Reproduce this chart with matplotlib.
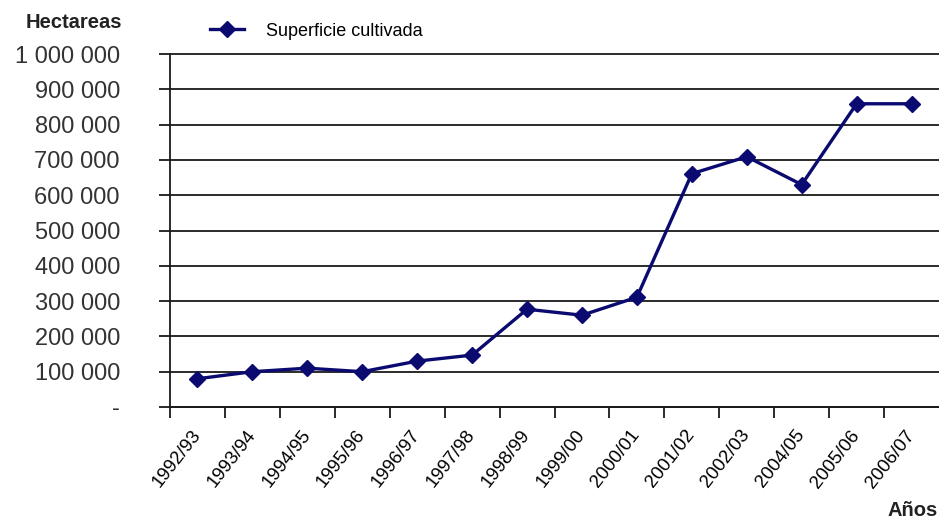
import numpy as np
import matplotlib.pyplot as plt
from matplotlib.ticker import FuncFormatter

plt.rcParams['font.family'] = ['Liberation Sans', 'DejaVu Sans']

campaigns = ["1992/93", "1993/94", "1994/95", "1995/96", "1996/97", "1997/98",
             "1998/99", "1999/00", "2000/01", "2001/02", "2002/03", "2004/05",
             "2005/06", "2006/07"]
hectares = [80000, 100000, 110000, 100000, 130000, 147000, 277000, 260000,
            311000, 661000, 709000, 630000, 859000, 859000]
y_ticks = np.arange(0, 1000001, 100000)


def fmt_thousands(v, pos):
    if v == 0:
        return "-"
    return f"{int(v):,}".replace(",", " ")


def main():
    fig = plt.figure(figsize=(9.39, 5.26), dpi=100)
    ax = fig.add_axes([170 / 939, 1 - 407 / 526, 769 / 939, (407 - 54) / 526])

    x = np.arange(len(campaigns))
    line, = ax.plot(x, hectares, color="#0a0a70", lw=2.4, marker="D",
                    markersize=8, label="Superficie cultivada", zorder=3)

    ax.set_xlim(-0.5, len(campaigns) - 0.5)
    ax.set_ylim(0, 1000000)
    ax.set_yticks(y_ticks)
    ax.yaxis.set_major_formatter(FuncFormatter(fmt_thousands))
    ax.yaxis.grid(True, color="#1a1a1a", lw=1.3)
    for gl in ax.yaxis.get_gridlines():
        gl.set_clip_on(False)
    ax.set_axisbelow(True)

    ax.set_xticks(x)
    ax.set_xticklabels(campaigns, rotation=52, ha="right", va="center",
                       rotation_mode="anchor", fontsize=13.5)
    ax.set_xticks(np.arange(-0.5, len(campaigns) - 0.5, 1), minor=True)
    ax.tick_params(axis="x", which="major", length=0, pad=18)
    ax.tick_params(axis="x", which="minor", length=8, width=1.3,
                   color="#1a1a1a", direction="out")
    ax.tick_params(axis="y", length=8, width=1.3, color="#1a1a1a",
                   labelsize=17, pad=28, labelcolor="#333333")

    for s in ["top", "right"]:
        ax.spines[s].set_visible(False)
    for s in ["left", "bottom"]:
        ax.spines[s].set_linewidth(1.3)
        ax.spines[s].set_color("#1a1a1a")

    fig.text(122 / 939, 1 - 22 / 526, "Hectareas", ha="right", va="center",
             fontsize=14.5, fontweight="bold", color="#222222")
    fig.text(938 / 939, 1 - 511 / 526, "Años", ha="right", va="center",
             fontsize=14.5, fontweight="bold", color="#222222")

    fig.legend(handles=[line], loc="center left",
               bbox_to_anchor=(210 / 939, 1 - 31 / 526), frameon=False,
               fontsize=13, handlelength=1.9, handletextpad=1.2,
               borderaxespad=0, borderpad=0)

    fig.savefig("out.png", dpi=100)


if __name__ == "__main__":
    main()
